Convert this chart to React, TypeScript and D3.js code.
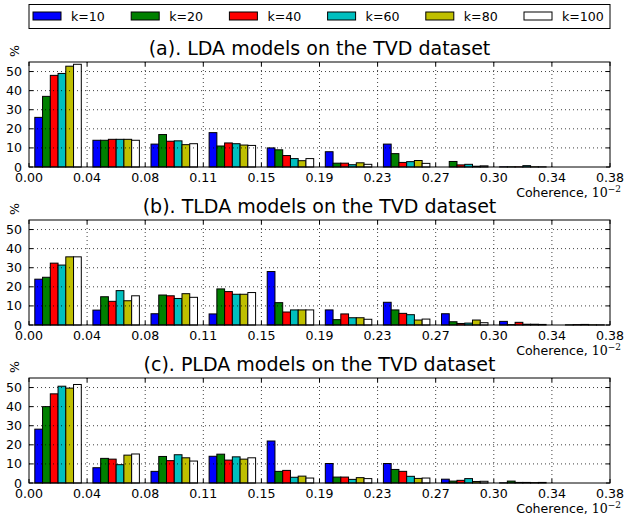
import React from "react";
import * as d3 from "d3";

const seriesNames = ["k=10", "k=20", "k=40", "k=60", "k=80", "k=100"];
const seriesColors = ["#0000ff", "#008000", "#ff0000", "#00bfbf", "#bfbf00", "#ffffff"];
const xTickLabels = ["0.00", "0.04", "0.08", "0.11", "0.15", "0.19", "0.23", "0.27", "0.30", "0.34", "0.38"];
const yTicks = [0, 10, 20, 30, 40, 50];
const titles = [
  "(a). LDA models on the TVD dataset",
  "(b). TLDA models on the TVD dataset",
  "(c). PLDA models on the TVD dataset",
];

// (a) LDA
const ldaK10 = [26, 14, 12, 18, 10, 8, 12, 0, 0.1, 0];
const ldaK20 = [37, 14, 17, 11, 9, 2, 7, 2.9, 0.1, 0];
const ldaK40 = [48, 14.5, 13.5, 12.6, 6, 2, 2.4, 1.1, 0.1, 0];
const ldaK60 = [49, 14.5, 13.7, 12.2, 4.4, 1.2, 2.8, 1.4, 0.7, 0];
const ldaK80 = [52.8, 14.5, 11.7, 11.5, 3.3, 2.2, 3.4, 0.4, 0.1, 0];
const ldaK100 = [53.8, 14, 12.2, 11.3, 4.4, 1.4, 1.9, 0.6, 0.1, 0];

// (b) TLDA
const tldaK10 = [24, 7.8, 5.9, 5.8, 28, 7.9, 11.9, 5.9, 1.9, 0];
const tldaK20 = [25, 14.8, 15.7, 18.9, 11.7, 2.8, 7.9, 1.7, 0.2, 0.1];
const tldaK40 = [32.4, 12.4, 15.3, 17.5, 6.8, 5.8, 6.1, 0.8, 1.4, 0.2];
const tldaK60 = [31.4, 18, 13.9, 16.1, 7.9, 3.8, 5.4, 1.0, 0.4, 0.3];
const tldaK80 = [35.7, 12.7, 16.4, 16.1, 7.9, 3.8, 2.6, 2.6, 0.4, 0.1];
const tldaK100 = [35.7, 15.3, 14.5, 17, 7.9, 3, 3.1, 1.2, 0.3, 0.1];

// (c) PLDA
const pldaK10 = [28.2, 8, 6.1, 14, 22, 10.2, 10.2, 2.0, 0.1, 0];
const pldaK20 = [40, 12.9, 13.9, 15.1, 6.1, 3.1, 7.1, 1.0, 1.0, 0];
const pldaK40 = [46.7, 12.5, 11.7, 12, 6.6, 3.1, 6.1, 1.4, 0.3, 0];
const pldaK60 = [50.7, 9.6, 14.8, 13.7, 3, 1.9, 3.5, 2.3, 0.3, 0];
const pldaK80 = [49.7, 14.6, 13.2, 12.5, 3.6, 2.8, 2.4, 0.8, 0.2, 0];
const pldaK100 = [51.6, 15.2, 11.5, 13.2, 2.6, 2.3, 2.6, 0.9, 0.3, 0];

const panels = [
  [ldaK10, ldaK20, ldaK40, ldaK60, ldaK80, ldaK100],
  [tldaK10, tldaK20, tldaK40, tldaK60, tldaK80, tldaK100],
  [pldaK10, pldaK20, pldaK40, pldaK60, pldaK80, pldaK100],
];

const W = 625;
const H = 516;
const left = 29;
const right = 610;
const panelTops = [62, 220, 378];
const panelH = 105;
const font = "DejaVu Sans, Liberation Sans, sans-serif";
const fs = 12.6;

function Panel({ idx }: { idx: number }) {
  const top = panelTops[idx];
  const bottom = top + panelH;
  const nBins = xTickLabels.length - 1;
  const x = d3.scaleLinear().domain([0, nBins]).range([left, right]);
  const y = d3.scaleLinear().domain([0, 55]).range([bottom, top]);
  const binW = x(1) - x(0);
  const nS = seriesNames.length;
  const barW = (0.8 * binW) / nS;
  const data = panels[idx];
  const tickLen = 4;

  return (
    <g>
      <text x={(left + right) / 2} y={top - 7} textAnchor="middle" fontSize={19} fontFamily={font}>
        {titles[idx]}
      </text>
      <text
        transform={`translate(19, ${top - 11}) rotate(-90)`}
        textAnchor="middle"
        fontSize={fs}
        fontFamily={font}
      >
        %
      </text>
      {/* bars */}
      {data.map((vals, s) =>
        vals.map((v, b) => {
          const x0 = x(b) + 0.1 * binW + s * barW;
          return (
            <rect
              key={`${s}-${b}`}
              x={x0}
              y={y(v)}
              width={barW}
              height={y(0) - y(v)}
              fill={seriesColors[s]}
              stroke="#000"
              strokeWidth={1}
            />
          );
        })
      )}
      {/* grid */}
      {xTickLabels.map((_, i) =>
        i > 0 && i < nBins ? (
          <line
            key={`gx${i}`}
            x1={x(i)}
            x2={x(i)}
            y1={top}
            y2={bottom}
            stroke="#000"
            strokeWidth={1}
            strokeDasharray="1,3"
            strokeOpacity={0.75}
          />
        ) : null
      )}
      {yTicks.map((t) =>
        t > 0 ? (
          <line
            key={`gy${t}`}
            x1={left}
            x2={right}
            y1={y(t)}
            y2={y(t)}
            stroke="#000"
            strokeWidth={1}
            strokeDasharray="1,3"
            strokeOpacity={0.75}
          />
        ) : null
      )}
      {/* ticks */}
      {xTickLabels.map((lab, i) => (
        <g key={`xt${i}`}>
          <line x1={x(i)} x2={x(i)} y1={bottom} y2={bottom - tickLen} stroke="#000" strokeWidth={1} />
          <line x1={x(i)} x2={x(i)} y1={top} y2={top + tickLen} stroke="#000" strokeWidth={1} />
          <text x={x(i)} y={bottom + 15} textAnchor="middle" fontSize={fs} fontFamily={font}>
            {lab}
          </text>
        </g>
      ))}
      {yTicks.map((t) => (
        <g key={`yt${t}`}>
          <line x1={left} x2={left + tickLen} y1={y(t)} y2={y(t)} stroke="#000" strokeWidth={1} />
          <line x1={right} x2={right - tickLen} y1={y(t)} y2={y(t)} stroke="#000" strokeWidth={1} />
          <text x={left - 7} y={y(t) + 4.5} textAnchor="end" fontSize={fs} fontFamily={font}>
            {t}
          </text>
        </g>
      ))}
      {/* frame */}
      <rect x={left} y={top} width={right - left} height={panelH} fill="none" stroke="#000" strokeWidth={1} />
      {/* x label */}
      <text x={621} y={bottom + 30} textAnchor="end" fontSize={fs} fontFamily={font}>
        Coherence,{" "}
        <tspan fontFamily="DejaVu Serif, serif">10</tspan>
        <tspan fontFamily="DejaVu Serif, serif" fontSize={9} dy={-5}>
          −2
        </tspan>
      </text>
    </g>
  );
}

function Legend() {
  const lx = d3.scaleLinear().domain([0, seriesNames.length]).range([33, 33 + 98.2 * seriesNames.length]);
  return (
    <g>
      <rect x={left} y={4.5} width={right - left} height={24} fill="#fff" stroke="#000" strokeWidth={1} />
      {seriesNames.map((name, i) => (
        <g key={name}>
          <rect x={lx(i)} y={12} width={28} height={8} fill={seriesColors[i]} stroke="#000" strokeWidth={1} />
          <text x={lx(i) + 38} y={20.5} fontSize={fs} fontFamily={font}>
            {name}
          </text>
        </g>
      ))}
    </g>
  );
}

export default function App() {
  return (
    <svg
      width={W}
      height={H}
      style={{ position: "absolute", left: 0, top: 0, background: "#fff" }}
      xmlns="http://www.w3.org/2000/svg"
    >
      <rect x={0} y={0} width={W} height={H} fill="#fff" />
      <Legend />
      {panels.map((_, i) => (
        <Panel key={i} idx={i} />
      ))}
    </svg>
  );
}
